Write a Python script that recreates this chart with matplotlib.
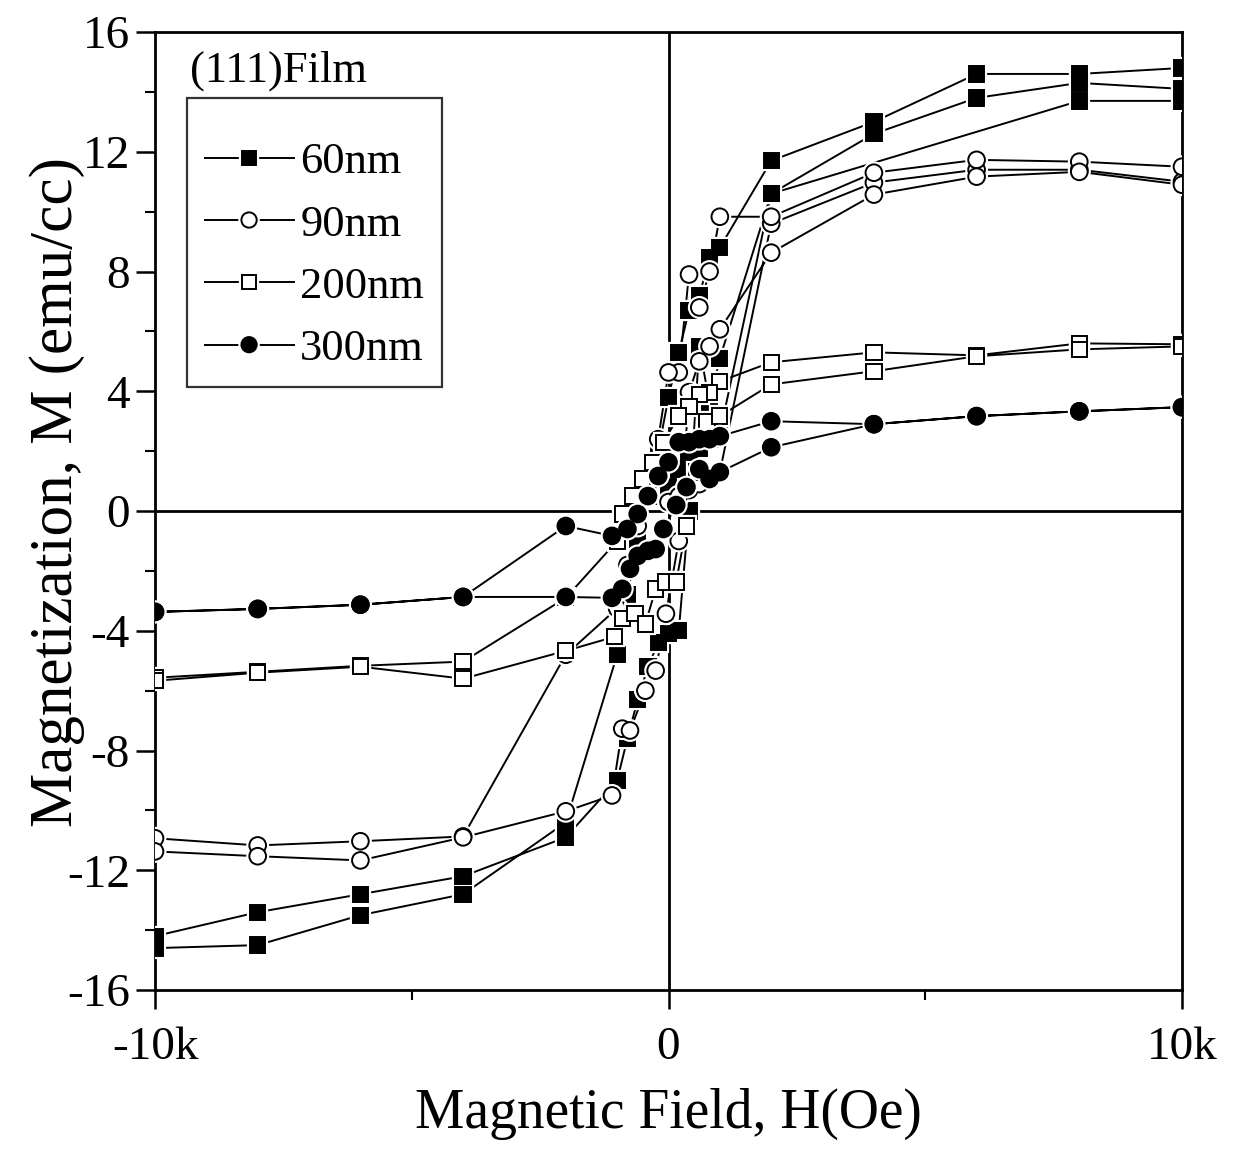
import matplotlib
matplotlib.use("Agg")
import matplotlib.pyplot as plt
import matplotlib.patheffects as pe
from matplotlib.ticker import FixedLocator, FuncFormatter

plt.rcParams['font.family'] = ['Liberation Serif', 'DejaVu Serif']
plt.rcParams['axes.unicode_minus'] = False

# ---------------- data (H in Oe, M in emu/cc), in measurement order ----------------
# 60 nm : initial curve, descending branch, ascending branch
h_60 = [0, 200, 400, 600, 800, 1000, 2000, 8000, 10000,
        10000, 8000, 6000, 4000, 2000, 1000, 800, 600, 400, 200, 0,
        -200, -400, -600, -800, -1000, -2000, -4000, -6000, -8000, -10000,
        -10000, -8000, -6000, -4000, -2000, -1000, -800, -600, -400, -200, 0,
        200, 400, 600, 800, 1000, 2000, 4000, 6000, 8000, 10000]
m_60 = [0.8, 1.4, 1.8, 2.1, 2.4, 2.6, 10.6, 13.7, 13.7,
        14.8, 14.6, 14.6, 13.0, 11.7, 8.8, 8.45, 7.2, 6.7, 5.3, 3.8,
        2.0, 0.5, -1.0, -2.8, -4.8, -10.4, -12.8, -13.5, -14.5, -14.6,
        -14.2, -13.4, -12.8, -12.2, -10.9, -9.0, -7.6, -6.3, -5.2, -4.4, -4.1,
        -4.0, 0.0, 5.5, 3.6, 5.1, 10.6, 12.6, 13.8, 14.3, 14.1]

# 90 nm
h_90 = [0, 200, 400, 600, 800, 1000, 2000, 4000, 6000, 8000, 10000,
        10000, 8000, 6000, 4000, 2000, 1000, 800, 600, 400, 200, 0,
        -200, -400, -600, -800, -1000, -2000, -4000, -6000, -8000, -10000,
        -10000, -8000, -6000, -4000, -2000, -1100, -900, -750, -450, -250, -50,
        200, 400, 600, 800, 1000, 2000, 4000, 6000, 8000, 10000]
m_90 = [0.3, 0.5, 0.7, 0.9, 1.1, 1.3, 9.6, 10.97, 11.4, 11.4, 11.0,
        11.5, 11.67, 11.73, 11.3, 9.83, 9.83, 8.0, 6.8, 7.9, 4.63, 4.63,
        2.4, 0.9, -0.5, -1.8, -3.25, -4.8, -10.87, -11.03, -11.17, -10.93,
        -11.37, -11.53, -11.67, -10.9, -10.03, -9.5, -7.27, -7.33, -6.0, -5.33, -3.43,
        -1.0, 3.97, 5.0, 5.5, 6.07, 8.63, 10.57, 11.17, 11.33, 10.9]

# 200 nm
h_200 = [10000, 8000, 6000, 4000, 2000, 1000, 800, 600, 400, 200, -100,
         -300, -500, -700, -900, -1000, -2000, -4000, -6000, -8000, -10000,
         -10000, -8000, -6000, -4000, -2000, -1050, -900, -650, -450, -250, -50,
         150, 350, 550, 750, 1000, 2000, 4000, 6000, 8000, 10000]
m_200 = [5.57, 5.6, 5.2, 5.3, 4.97, 4.33, 3.97, 3.9, 3.5, 3.17, 2.3,
         1.63, 1.07, 0.5, -0.1, -1.0, -2.9, -5.03, -5.17, -5.37, -5.57,
         -5.67, -5.4, -5.2, -5.6, -4.67, -4.2, -3.6, -3.43, -3.77, -2.6, -2.37,
         -2.37, -0.5, 1.3, 2.97, 3.17, 4.23, 4.67, 5.17, 5.4, 5.5]

# 300 nm
h_300 = [10000, 8000, 6000, 4000, 2000, 1000, 800, 600, 400, 200, 0,
         -200, -400, -600, -800, -1100, -2000, -4000, -6000, -8000, -10000,
         -10000, -8000, -6000, -4000, -2000, -1100, -900, -750, -600, -400, -250,
         -100, 150, 350, 600, 800, 1000, 2000, 4000, 6000, 8000, 10000]
m_300 = [3.47, 3.33, 3.17, 2.9, 3.0, 2.5, 2.4, 2.4, 2.3, 2.3, 1.63,
         1.17, 0.5, -0.1, -0.6, -0.83, -0.5, -2.87, -3.13, -3.27, -3.37,
         -3.37, -3.27, -3.13, -2.87, -2.87, -2.9, -2.6, -1.93, -1.5, -1.33, -1.27,
         -0.6, 0.2, 0.8, 1.4, 1.07, 1.3, 2.13, 2.9, 3.17, 3.33, 3.47]

labels = ["60nm", "90nm", "200nm", "300nm"]
x_ticks = [-10000, 0, 10000]
x_tick_labels = ["-10k", "0", "10k"]
y_ticks = [-16, -12, -8, -4, 0, 4, 8, 12, 16]

# ---------------- figure ----------------
fig = plt.figure(figsize=(12.5, 11.52), dpi=100)
ax = fig.add_axes([0.124, 0.1406, 0.8216, 0.8316])

series = [
    (h_60, m_60, 's', 'black'),
    (h_90, m_90, 'o', 'white'),
    (h_200, m_200, 's', 'white'),
    (h_300, m_300, 'o', 'black'),
]

ax.axhline(0, color='black', lw=2.0, zorder=1)
ax.axvline(0, color='black', lw=2.0, zorder=1)

halo = [pe.Stroke(linewidth=4.5, foreground='white'), pe.Normal()]
handles = []
for (h, m, mk, fc), lab in zip(series, labels):
    ax.plot(h, m, '-', color='black', lw=1.4, zorder=2)
for (h, m, mk, fc), lab in zip(series, labels):
    ax.plot(h, m, linestyle='none', marker=mk, ms=11 if mk == 's' else 12,
            mfc=fc, mec='black', mew=1.4, zorder=3, path_effects=halo)
    hd, = ax.plot([], [], '-', color='black', lw=1.4, marker=mk,
                  ms=10 if mk == 's' else 11, mfc=fc, mec='black', mew=1.4,
                  label=lab, path_effects=halo)
    handles.append(hd)

ax.set_xlim(-10000, 10000)
ax.set_ylim(-16, 16)

ax.xaxis.set_major_locator(FixedLocator(x_ticks))
ax.xaxis.set_major_formatter(FuncFormatter(
    lambda v, p: x_tick_labels[x_ticks.index(int(round(v)))] if int(round(v)) in x_ticks else ""))
ax.xaxis.set_minor_locator(FixedLocator([-5000, 5000]))
ax.yaxis.set_major_locator(FixedLocator(y_ticks))
ax.yaxis.set_minor_locator(FixedLocator(list(range(-14, 16, 4))))

ax.tick_params(axis='both', which='major', direction='out', length=14, width=1.8,
               labelsize=34, pad=4)
ax.tick_params(axis='x', which='major', pad=12)
ax.tick_params(axis='both', which='minor', direction='out', length=7, width=1.5)
ax.tick_params(top=False, right=False)
for s in ax.spines.values():
    s.set_linewidth(2.0)

ax.set_xlabel("Magnetic Field, H(Oe)", fontsize=40, labelpad=14)
ax.set_ylabel("Magnetization, M (emu/cc)", fontsize=44)
ax.yaxis.set_label_coords(-0.068, 0.52)

ax.text(0.034, 0.960, "(111)Film", transform=ax.transAxes, fontsize=32,
        ha='left', va='center')

leg = ax.legend(handles=handles, loc='upper left', bbox_to_anchor=(0.031, 0.931),
                borderaxespad=0, fontsize=32, frameon=True, fancybox=False,
                edgecolor='black', borderpad=0.4, labelspacing=0.5,
                handlelength=2.0, handletextpad=0.15, numpoints=1,
                title=" ", title_fontsize=3)
leg.get_frame().set_linewidth(1.6)

fig.savefig("out.png", dpi=100)
